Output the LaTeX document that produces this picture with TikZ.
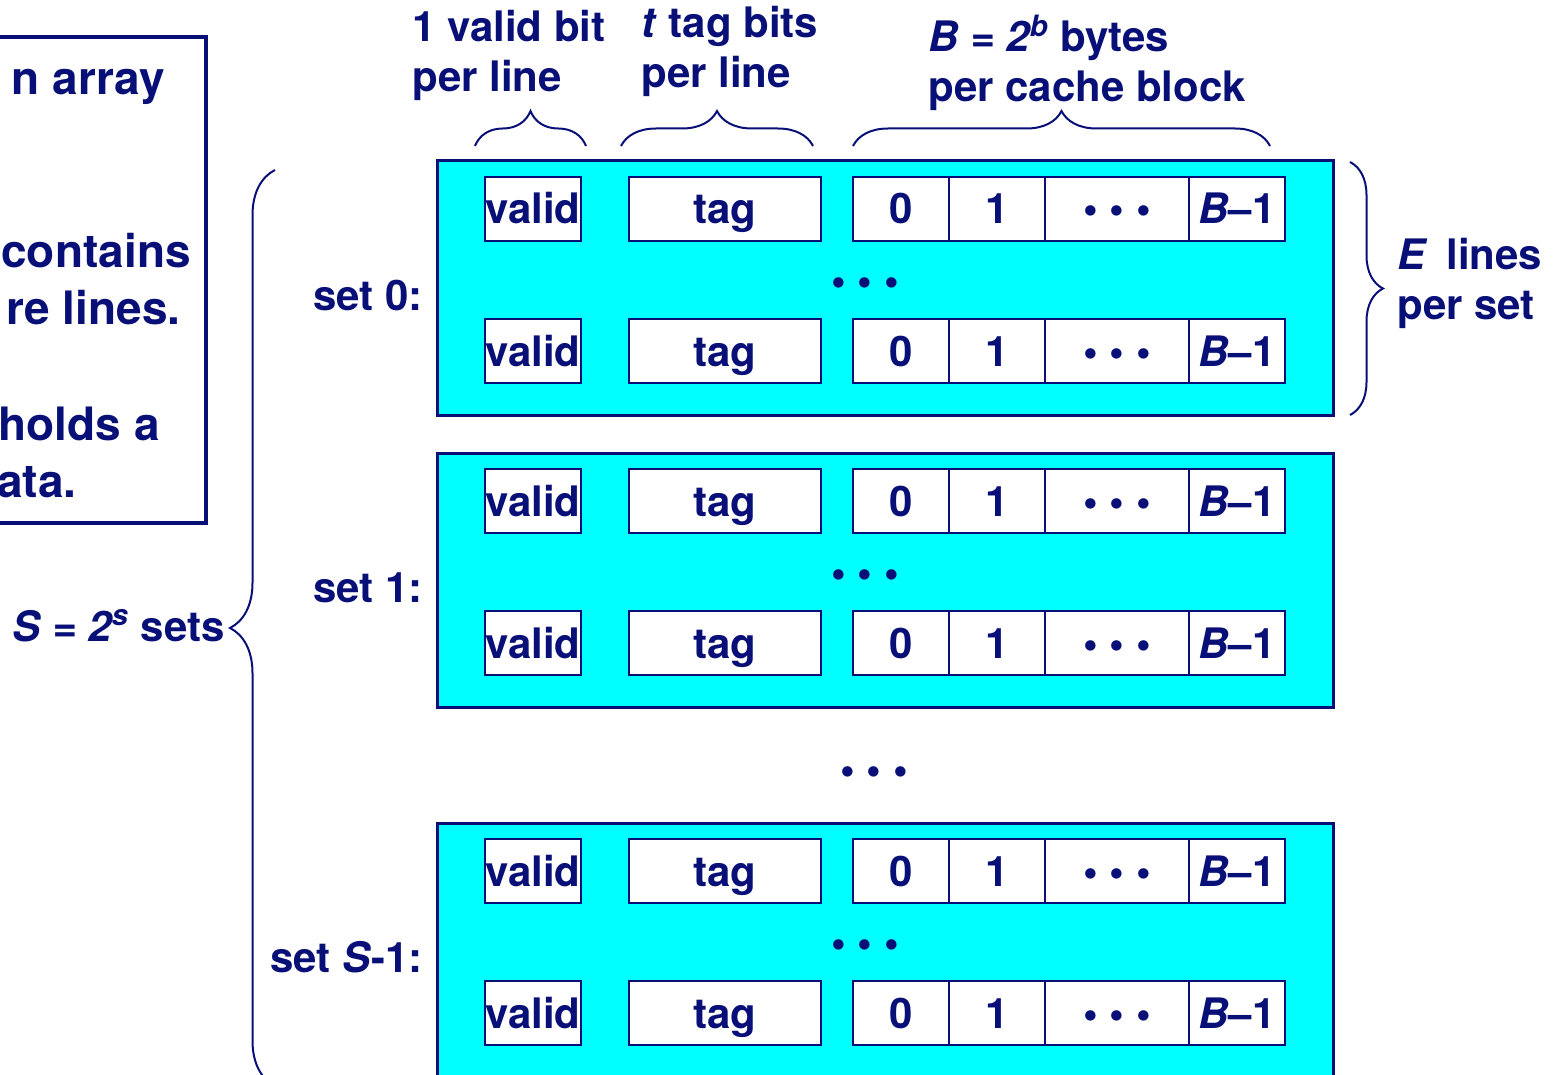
\documentclass[tikz,border=0pt]{standalone}
\usepackage{fontspec}
\setmainfont{TeX Gyre Heros}
\usetikzlibrary{decorations.pathreplacing}
\definecolor{slidenavy}{RGB}{8,16,120}
\definecolor{slidecyan}{RGB}{0,255,255}
\tikzset{
  setbox/.style={draw=slidenavy, fill=slidecyan, line width=1.5pt, minimum width=448pt, minimum height=127pt, inner sep=0pt},
  cell/.style={draw=slidenavy, fill=white, line width=1.2pt, minimum height=32pt, inner sep=0pt, text height=15pt, text depth=0pt, text=slidenavy, font=\fontsize{21}{25}\selectfont\bfseries},
  lbl/.style={inner sep=0pt, text=slidenavy, align=left, font=\fontsize{21}{25}\selectfont\bfseries},
  boxtext/.style={lbl, anchor=base east, font=\fontsize{23}{28}\selectfont\bfseries},
  bracepath/.style={decorate, draw=slidenavy, line width=1pt, decoration={brace, amplitude=#1}},
}
\begin{document}
\begin{tikzpicture}[x=0.5pt,y=0.5pt,yscale=-1,xscale=1]
\useasboundingbox (0,0) rectangle (1559,1075);

%Shape: left text box (cut off by the page)
\draw [draw=slidenavy, line width=2pt] (-20,37) rectangle (206,523);
% Text Node
\node [boxtext] (arrayline) at (165,95) {n array};
\node [boxtext, anchor=base west] (containsline) at (1,268) {contains};
\node [boxtext] (linesline) at (181,325) {re lines.};
\node [boxtext] (holdsline) at (160,440) {holds a};
\node [boxtext] (dataline) at (77,497) {ata.};

%Shape: sets
\node [setbox] (set0) at (885,288) {};
\node [setbox] (set1) at (885,580) {};
\node [setbox] (setS) at (885,950) {};

%Shape: lines of each set
\foreach \s/\t in {0/161,1/453,S/823}{
  \foreach \r/\o in {1/48,2/190}{
    \node [cell, minimum width=48pt] (valid\s\r) at (533,{\t+\o}) {valid};
    \node [cell, minimum width=96pt] (tag\s\r) at (725,{\t+\o}) {tag};
    \node [cell, minimum width=48pt] (byteA\s\r) at (901,{\t+\o}) {0};
    \node [cell, minimum width=48pt] (byteB\s\r) at (997,{\t+\o}) {1};
    \node [cell, minimum width=72pt] (byteC\s\r) at (1117,{\t+\o}) {• • •};
    \node [cell, minimum width=48pt] (byteD\s\r) at (1237,{\t+\o}) {\textit{B}--1};
  }
  \node [lbl] (dots\s) at (865,{\t+126}) {• • •};
}
\node [lbl] (setdots) at (874,776) {• • •};

% Text Node
\node [lbl, anchor=base east] (lab0) at (423,311) {set 0:};
\node [lbl, anchor=base east] (lab1) at (423,602) {set 1:};
\node [lbl, anchor=base east] (labS) at (423,972) {set \textit{S}-1:};
\node [lbl, anchor=base west] (numsets) at (12,641) {\textit{S = 2\textsuperscript{s}} sets};
\node [lbl, anchor=north west] (validlab) at (412,10) {1 valid bit\\per line};
\node [lbl, anchor=north west] (taglab) at (641,6) {\textit{t} tag bits\\per line};
\node [lbl, anchor=north west] (blocklab) at (928,15) {\textit{B = 2\textsuperscript{b}} bytes\\per cache block};
\node [lbl, anchor=north west] (lineslab) at (1397,238) {\textit{E}\, lines\\per set};

%Braces
\coordinate (vA) at (475,146); \coordinate (vB) at (586,146);
\coordinate (tA) at (621,146); \coordinate (tB) at (813,146);
\coordinate (bA) at (853,146); \coordinate (bB) at (1270,146);
\coordinate (eA) at (1350,162); \coordinate (eB) at (1350,415);
\coordinate (sA) at (275,1086); \coordinate (sB) at (275,170);
\draw [bracepath=17.5pt] (vA) -- (vB);
\draw [bracepath=17.5pt] (tA) -- (tB);
\draw [bracepath=17.5pt] (bA) -- (bB);
\draw [bracepath=16.5pt] (eA) -- (eB);
\draw [bracepath=22.5pt] (sA) -- (sB);

\end{tikzpicture}
\end{document}
